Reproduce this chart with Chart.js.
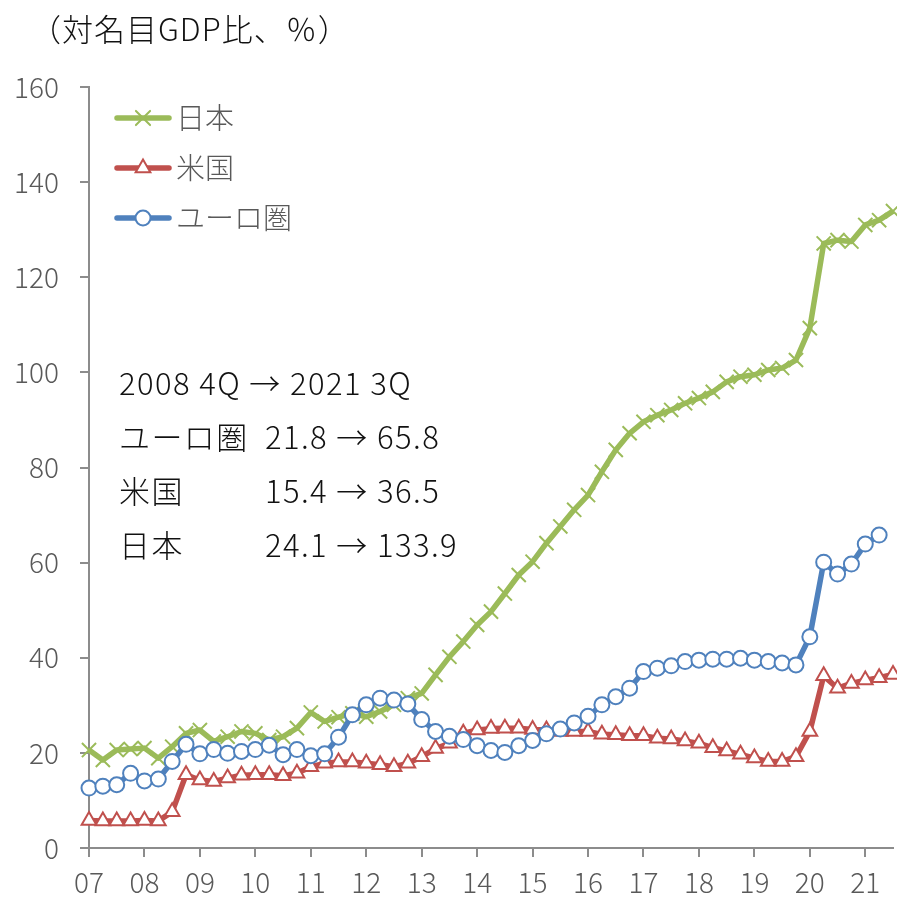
<!DOCTYPE html>
<html>
<head>
<meta charset="utf-8">
<script src="https://cdn.jsdelivr.net/npm/chart.js@4.4.0/dist/chart.umd.min.js"></script>
<style>
  html, body { margin: 0; padding: 0; background: #fff; }
  #wrap { position: relative; width: 897px; height: 897px; overflow: hidden; }
  #chart { position: absolute; left: 0; top: 0; }
  .txt { position: absolute; font-family: "Noto Sans CJK JP", "Noto Sans", sans-serif; font-weight: 300; color: #111; white-space: pre; }
  #title { left: 30px; top: 5px; font-size: 31px; letter-spacing: 1px; }
  .row { position: absolute; left: 0; height: 54px; line-height: 54px; font-size: 31px; letter-spacing: 1.4px; }
  .row .lab { position: absolute; left: 119px; }
  .row .val { position: absolute; left: 265px; }
</style>
</head>
<body>
<div id="wrap">
  <canvas id="chart" width="897" height="897"></canvas>
  <div id="title" class="txt">（対名目GDP比、％）</div>
  <div id="notes"></div>
</div>
<script>
// quarterly, 2007 Q1 .. 2021 Q3
const years = ['07', '08', '09', '10', '11', '12', '13', '14', '15', '16', '17', '18', '19', '20', '21'];
const quarters = ['Q1', 'Q2', 'Q3', 'Q4'];

const seriesNames = ['日本', '米国', 'ユーロ圏'];

const japan = [20.6, 18.5, 20.6, 20.8, 21.0, 18.9, 21.3, 24.1,
  24.8, 22.4, 23.4, 24.5, 24.1, 22.7, 23.4, 25.2,
  28.5, 26.6, 27.5, 28.3, 27.6, 28.7, 30.1, 31.5,
  32.5, 36.4, 40.2, 43.4, 46.9, 49.7, 53.5, 57.4,
  60.2, 64.1, 67.6, 71.1, 74.2, 79.1, 83.7, 87.2,
  89.6, 91.0, 92.1, 93.5, 94.6, 95.9, 98.0, 99.1,
  99.5, 100.5, 100.9, 102.6, 109.3, 127.1, 127.8, 127.5,
  131.0, 132.0, 133.9];

const us = [5.8, 5.7, 5.7, 5.7, 5.8, 5.7, 7.6, 15.4,
  14.3, 14.0, 14.7, 15.3, 15.4, 15.4, 15.2, 15.7,
  17.1, 17.8, 18.1, 18.1, 17.8, 17.5, 17.1, 17.8,
  19.2, 20.9, 22.0, 24.1, 24.8, 25.1, 25.2, 25.2,
  24.9, 24.8, 24.5, 24.5, 24.5, 23.9, 23.8, 23.6,
  23.6, 23.1, 22.9, 22.5, 22.0, 21.1, 20.4, 19.7,
  18.9, 18.2, 18.2, 19.2, 24.5, 36.2, 33.6, 34.6,
  35.3, 35.8, 36.5];

const euro = [12.6, 13.0, 13.3, 15.7, 14.1, 14.5, 18.2, 21.8,
  19.8, 20.7, 19.9, 20.3, 20.7, 21.6, 19.6, 20.7,
  19.4, 19.8, 23.3, 28.0, 30.1, 31.5, 31.1, 30.3,
  27.0, 24.5, 23.5, 22.8, 21.5, 20.5, 20.1, 21.5,
  22.6, 24.0, 25.0, 26.3, 27.7, 30.1, 31.8, 33.6,
  37.1, 37.8, 38.3, 39.2, 39.5, 39.7, 39.7, 39.9,
  39.5, 39.2, 38.9, 38.5, 44.4, 60.1, 57.6, 59.7,
  63.9, 65.8, null];

// summary box: 2008 4Q -> 2021 3Q
const summaryPeriod = ['2008 4Q', '2021 3Q'];
const summaryNames = ['ユーロ圏', '米国', '日本'];
const summaryStart = [21.8, 15.4, 24.1];
const summaryEnd = [65.8, 36.5, 133.9];

const labels = [];
years.forEach(y => quarters.forEach(q => labels.push(y + q)));
labels.length = japan.length;

const FONT = '"Noto Sans CJK JP", "Noto Sans", sans-serif';
const AXIS_GREY = '#8c8c8c';
const TEXT_GREY = '#595959';
const colors = ['#9bbb59', '#c0504d', '#4f81bd'];
const styles = ['crossRot', 'triangle', 'circle'];
const radii = [10, 8.5, 7.5];

// --- summary text ---
const notes = document.getElementById('notes');
function addRow(i, lab, val) {
  const row = document.createElement('div');
  row.className = 'row txt';
  row.style.top = (355 + i * 54) + 'px';
  const a = document.createElement('span');
  a.className = 'lab';
  a.textContent = lab;
  row.appendChild(a);
  if (val) {
    const b = document.createElement('span');
    b.className = 'val';
    b.textContent = val;
    row.appendChild(b);
  }
  notes.appendChild(row);
}
addRow(0, summaryPeriod[0] + ' → ' + summaryPeriod[1]);
summaryNames.forEach((n, i) => {
  addRow(i + 1, n, summaryStart[i].toFixed(1) + ' → ' + summaryEnd[i].toFixed(1));
});

// --- legend drawn inside the plot ---
const insideLegend = {
  id: 'insideLegend',
  afterDraw(chart) {
    const ctx = chart.ctx;
    ctx.save();
    chart.data.datasets.forEach((ds, i) => {
      const y = 118 + i * 50;
      ctx.strokeStyle = ds.borderColor;
      ctx.lineWidth = 5.5;
      ctx.lineCap = 'round';
      ctx.beginPath();
      ctx.moveTo(117, y);
      ctx.lineTo(169, y);
      ctx.stroke();
      ctx.fillStyle = ds.pointBackgroundColor;
      ctx.strokeStyle = ds.borderColor;
      ctx.lineWidth = ds.pointBorderWidth;
      Chart.helpers.drawPoint(ctx, {
        pointStyle: ds.pointStyle, radius: ds.pointRadius, rotation: 0, borderWidth: ds.pointBorderWidth
      }, 143, y);
      ctx.fillStyle = TEXT_GREY;
      ctx.font = '300 29px ' + FONT;
      ctx.textBaseline = 'middle';
      ctx.fillText(ds.label, 176, y);
    });
    ctx.restore();
  }
};

function makeSet(i, data, order) {
  return {
    label: seriesNames[i],
    data: data,
    borderColor: colors[i],
    backgroundColor: colors[i],
    borderWidth: 5.5,
    borderJoinStyle: 'round',
    tension: 0,
    pointStyle: styles[i],
    pointRadius: radii[i],
    pointBorderWidth: 2,
    pointBorderColor: colors[i],
    pointBackgroundColor: '#ffffff',
    clip: false,
    order: order
  };
}

new Chart(document.getElementById('chart'), {
  type: 'line',
  data: {
    labels: labels,
    datasets: [makeSet(0, japan, 3), makeSet(1, us, 2), makeSet(2, euro, 1)]
  },
  options: {
    responsive: false,
    animation: false,
    events: [],
    layout: { autoPadding: false, padding: { top: 87, right: 4, left: 0, bottom: 0 } },
    plugins: { legend: { display: false }, tooltip: { enabled: false } },
    scales: {
      x: {
        type: 'category',
        offset: false,
        border: { color: AXIS_GREY, width: 2 },
        grid: {
          drawOnChartArea: false,
          drawTicks: true,
          tickLength: 9,
          lineWidth: 2,
          color: ctx => (ctx.index % 4 === 0 ? AXIS_GREY : 'rgba(0,0,0,0)')
        },
        ticks: {
          autoSkip: false,
          maxRotation: 0,
          padding: 9,
          color: TEXT_GREY,
          font: { size: 28, family: FONT, weight: 300 },
          callback: (v, i) => (i % 4 === 0 ? labels[i].slice(0, 2) : '')
        },
        afterFit(s) {
          s.height = 49;
          s.paddingLeft = 0;
          s.paddingRight = 0;
        }
      },
      y: {
        min: 0,
        max: 160,
        border: { color: AXIS_GREY, width: 2 },
        grid: { drawOnChartArea: false, drawTicks: true, tickLength: 9, lineWidth: 2, color: AXIS_GREY },
        ticks: {
          stepSize: 20,
          padding: 21,
          color: TEXT_GREY,
          font: { size: 28, family: FONT, weight: 300 }
        },
        afterFit(s) { s.width = 89; }
      }
    }
  },
  plugins: [insideLegend]
});
</script>
</body>
</html>
